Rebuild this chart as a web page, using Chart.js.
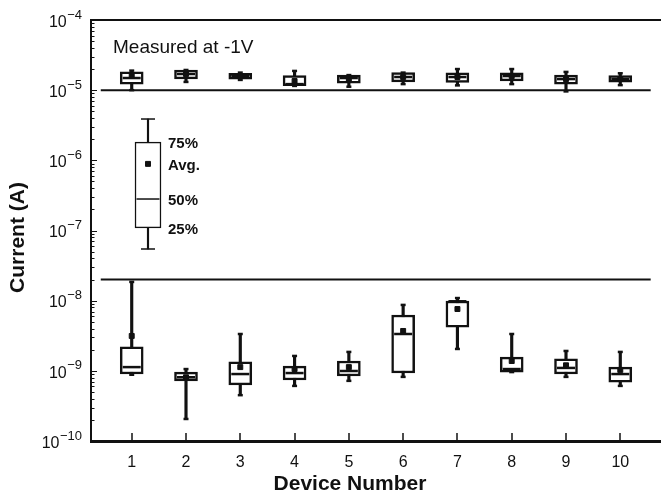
<!DOCTYPE html>
<html>
<head>
<meta charset="utf-8">
<script src="https://cdn.jsdelivr.net/npm/chart.js@4"></script>
<style>
  html, body { margin: 0; padding: 0; background: #fff; overflow: hidden; }
  #wrap { width: 661px; height: 504px; position: relative; }
  canvas { display: block; }
</style>
</head>
<body>
<div id="wrap"><canvas id="box-chart"></canvas></div>
<script>
const devices = [1, 2, 3, 4, 5, 6, 7, 8, 9, 10];

// on-state group (A)
const hiMax  = [1.90e-5, 1.94e-5, 1.78e-5, 1.88e-5, 1.64e-5, 1.78e-5, 2.00e-5, 2.00e-5, 1.82e-5, 1.74e-5];
const hiQ3   = [1.82e-5, 1.94e-5, 1.74e-5, 1.61e-5, 1.64e-5, 1.78e-5, 1.76e-5, 1.76e-5, 1.64e-5, 1.61e-5];
const hiMed  = [1.49e-5, 1.70e-5, 1.59e-5, 1.22e-5, 1.49e-5, 1.54e-5, 1.54e-5, 1.59e-5, 1.44e-5, 1.44e-5];
const hiMean = [1.59e-5, 1.70e-5, 1.59e-5, 1.35e-5, 1.45e-5, 1.54e-5, 1.54e-5, 1.59e-5, 1.44e-5, 1.44e-5];
const hiQ1   = [1.22e-5, 1.45e-5, 1.43e-5, 1.16e-5, 1.26e-5, 1.31e-5, 1.29e-5, 1.36e-5, 1.22e-5, 1.30e-5];
const hiMin  = [1.00e-5, 1.31e-5, 1.40e-5, 1.15e-5, 1.12e-5, 1.22e-5, 1.17e-5, 1.22e-5, 9.6e-6, 1.18e-5];

// off-state group (A)
const loMax  = [1.85e-8, 1.06e-9, 3.35e-9, 1.63e-9, 1.86e-9, 8.7e-9, 1.09e-8, 3.35e-9, 1.92e-9, 1.86e-9];
const loQ3   = [2.19e-9, 9.6e-10, 1.34e-9, 1.17e-9, 1.38e-9, 6.25e-9, 9.9e-9, 1.57e-9, 1.48e-9, 1.13e-9];
const loMed  = [1.13e-9, 8.1e-10, 9.0e-10, 9.3e-10, 9.95e-10, 3.35e-9, 9.8e-9, 1.06e-9, 1.10e-9, 9.0e-10];
const loMean = [3.14e-9, 8.1e-10, 1.13e-9, 1.06e-9, 1.13e-9, 3.70e-9, 7.6e-9, 1.38e-9, 1.20e-9, 1.03e-9];
const loQ1   = [9.0e-10, 7.2e-10, 6.3e-10, 7.4e-10, 8.45e-10, 9.3e-10, 4.2e-9, 9.6e-10, 9.0e-10, 6.9e-10];
const loMin  = [8.8e-10, 2.06e-10, 4.5e-10, 6.1e-10, 7.2e-10, 8.2e-10, 2.05e-9, 9.6e-10, 8.2e-10, 6.1e-10];

// sample box used as a key
const keyX = [1.3];
const keyMax = [3.88e-6], keyQ3 = [1.82e-6], keyMean = [8.9e-7], keyMed = [2.81e-7], keyQ1 = [1.09e-7], keyMin = [5.45e-8];
const keyLabels = ["75%", "Avg.", "50%", "25%"];

// separating lines
const thresholds = [1e-5, 2e-8];
const thresholdSpan = [0.43, 10.56];

const yTickExps = [-4, -5, -6, -7, -8, -9, -10];

const ink = "#111";
Chart.defaults.font.family = "'Liberation Sans', Arial, sans-serif";
Chart.defaults.color = ink;

function pts(xs, vals) {
  return xs.map((x, i) => ({ x: x, y: vals[i] }));
}

function boxSets(xs, mn, q1, med, q3, mx, mean, s) {
  return [
    { type: 'bar', data: xs.map((x, i) => ({ x: x, y: [mn[i], mx[i]] })), grouped: false,
      barThickness: s.stem, backgroundColor: ink, borderWidth: 0, order: 5 },
    { type: 'bar', data: xs.map((x, i) => ({ x: x, y: [q1[i], q3[i]] })), grouped: false,
      barThickness: s.width, backgroundColor: '#fff', borderColor: ink, borderWidth: s.line,
      borderSkipped: false, order: 4 },
    { type: 'scatter', data: pts(xs, med), pointStyle: 'line', pointRadius: s.width / 2 - s.line,
      borderColor: ink, pointBorderWidth: s.line, order: 3 },
    { type: 'scatter', data: pts(xs, mn).concat(pts(xs, mx)), pointStyle: 'line', pointRadius: s.cap,
      borderColor: ink, pointBorderWidth: s.line, order: 2 },
    { type: 'scatter', data: pts(xs, mean), pointStyle: 'rect', pointRadius: 3.5,
      backgroundColor: ink, borderColor: ink, pointBorderWidth: 1, order: 1 }
  ];
}

const thick = { width: 23, line: 2.5, stem: 2.5, cap: 2.5 };
const thin = { width: 26, line: 1.5, stem: 1.5, cap: 7 };

let datasets = thresholds.map(t => ({
  type: 'line', data: thresholdSpan.map(x => ({ x: x, y: t })), borderColor: ink,
  borderWidth: 2, pointRadius: 0, order: 6
}));
datasets = datasets
  .concat(boxSets(devices, hiMin, hiQ1, hiMed, hiQ3, hiMax, hiMean, thick))
  .concat(boxSets(devices, loMin, loQ1, loMed, loQ3, loMax, loMean, thick))
  .concat(boxSets(keyX, keyMin, keyQ1, keyMed, keyQ3, keyMax, keyMean, thin));

const axisDecor = {
  id: 'axisDecor',
  afterDraw(chart) {
    const { ctx, chartArea: a, scales: { x, y } } = chart;
    ctx.save();
    ctx.strokeStyle = ink;
    ctx.fillStyle = ink;

    ctx.lineWidth = 2;
    ctx.beginPath();
    ctx.moveTo(a.left, a.top);
    ctx.lineTo(a.right, a.top);
    ctx.stroke();

    // inward ticks on the log axis
    ctx.lineWidth = 1;
    for (let e = -10; e < -4; e++) {
      for (let m = 1; m < 10; m++) {
        const py = Math.round(y.getPixelForValue(m * Math.pow(10, e))) + 0.5;
        const len = m === 1 ? 6 : 3.5;
        ctx.beginPath();
        ctx.moveTo(a.left, py);
        ctx.lineTo(a.left + len, py);
        ctx.stroke();
      }
    }
    // inward ticks on the device axis
    ctx.lineWidth = 1.5;
    devices.forEach(d => {
      const px = Math.round(x.getPixelForValue(d));
      ctx.beginPath();
      ctx.moveTo(px, a.bottom);
      ctx.lineTo(px, a.bottom - 8);
      ctx.stroke();
    });

    // power-of-ten labels
    yTickExps.forEach(e => {
      const py = y.getPixelForValue(Math.pow(10, e));
      const ex = '\u2212' + String(-e);
      ctx.font = "13px 'Liberation Sans', Arial, sans-serif";
      ctx.textAlign = 'right';
      ctx.textBaseline = 'alphabetic';
      const ew = ctx.measureText(ex).width;
      ctx.fillText(ex, 82, py - 1.5);
      ctx.font = "16px 'Liberation Sans', Arial, sans-serif";
      ctx.fillText('10', 82 - ew - 0.5, py + 6.8);
    });

    // axis titles
    ctx.font = "bold 21px 'Liberation Sans', Arial, sans-serif";
    ctx.textAlign = 'center';
    ctx.fillText('Device Number', 350, 490);
    ctx.save();
    ctx.translate(23.5, 237.5);
    ctx.rotate(-Math.PI / 2);
    ctx.fillText('Current (A)', 0, 0);
    ctx.restore();

    // annotation
    ctx.font = "19px 'Liberation Sans', Arial, sans-serif";
    ctx.textAlign = 'left';
    ctx.fillText('Measured at -1V', 113, 53);

    // key labels next to the sample box
    ctx.font = "bold 15px 'Liberation Sans', Arial, sans-serif";
    ctx.textBaseline = 'middle';
    const kx = x.getPixelForValue(keyX[0]) + 20;
    [keyQ3[0], keyMean[0], keyMed[0], keyQ1[0]].forEach((v, i) => {
      ctx.fillText(keyLabels[i], kx, y.getPixelForValue(v) + 1.5);
    });
    ctx.restore();
  }
};

new Chart(document.getElementById('box-chart'), {
  type: 'bar',
  data: { datasets: datasets },
  plugins: [axisDecor],
  options: {
    responsive: true,
    maintainAspectRatio: false,
    animation: false,
    layout: { autoPadding: false, padding: { top: 20, right: 0, left: 0, bottom: 0 } },
    plugins: { legend: { display: false }, tooltip: { enabled: false } },
    scales: {
      x: {
        type: 'linear', min: 0.25, max: 10.75, offset: false,
        afterBuildTicks: s => { s.ticks = devices.map(v => ({ value: v })); },
        afterFit: s => { s.height = 63; s.paddingLeft = 0; s.paddingRight = 0; },
        grid: { display: false, drawTicks: false, offset: false },
        border: { display: true, color: ink, width: 3 },
        ticks: { padding: 12, font: { size: 16 }, color: ink, maxRotation: 0 }
      },
      y: {
        type: 'logarithmic', min: 1e-10, max: 1e-4,
        afterFit: s => { s.width = 91; s.paddingTop = 0; s.paddingBottom = 0; },
        grid: { display: false, drawTicks: false },
        border: { display: true, color: ink, width: 2 },
        ticks: { display: false }
      }
    }
  }
});
</script>
</body>
</html>
